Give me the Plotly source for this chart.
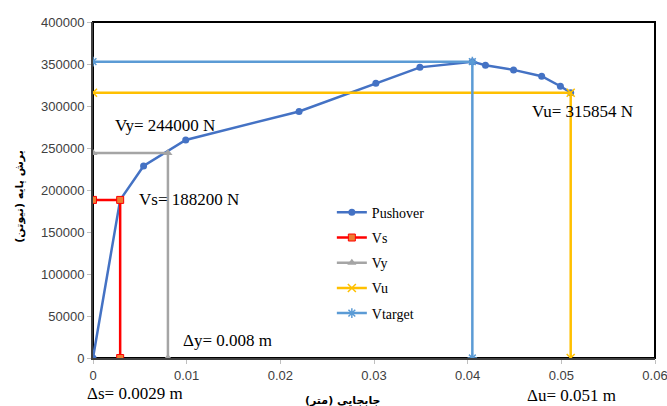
import plotly.graph_objects as go

# Pushover curve
push_x = [0, 0.0029, 0.0054, 0.0099, 0.0220, 0.0302, 0.0349, 0.0405, 0.0419, 0.0449, 0.0479, 0.0499, 0.051]
push_y = [0, 188200, 228600, 259500, 293500, 327000, 346000, 352800, 348500, 343000, 335500, 323500, 315854]

vs_x = [0, 0.0029, 0.0029]
vs_y = [188200, 188200, 0]
vy_x = [0, 0.008, 0.008]
vy_y = [244000, 244000, 0]
vu_x = [0, 0.051, 0.051]
vu_y = [315854, 315854, 0]
vt_x = [0, 0.0405, 0.0405]
vt_y = [352800, 352800, 0]

x_ticks = [0, 0.01, 0.02, 0.03, 0.04, 0.05, 0.06]
x_tick_labels = ["0", "0.01", "0.02", "0.03", "0.04", "0.05", "0.06"]
y_ticks = [0, 50000, 100000, 150000, 200000, 250000, 300000, 350000, 400000]
y_tick_labels = ["0", "50000", "100000", "150000", "200000", "250000", "300000", "350000", "400000"]

fig = go.Figure()
fig.add_trace(go.Scatter(x=push_x, y=push_y, name="Pushover", mode="lines+markers", legendgroup="a", legendrank=1,
                         line=dict(color="#4472C4", width=2.5),
                         marker=dict(symbol="circle", size=7, color="#4472C4")))
fig.add_trace(go.Scatter(x=vs_x, y=vs_y, name="Vs", mode="lines+markers", legendgroup="b", legendrank=2,
                         line=dict(color="#FF0000", width=2.5),
                         marker=dict(symbol="square", size=7, color="#ED7D31", line=dict(color="#FF0000", width=1))))
fig.add_trace(go.Scatter(x=vy_x, y=vy_y, name="Vy", mode="lines+markers", legendgroup="c", legendrank=3,
                         line=dict(color="#A5A5A5", width=2.5),
                         marker=dict(symbol="triangle-up", size=8, color="#A5A5A5")))
fig.add_trace(go.Scatter(x=vu_x, y=vu_y, name="Vu", mode="lines+markers", legendgroup="d", legendrank=4,
                         line=dict(color="#FFC000", width=2.5),
                         marker=dict(symbol="x-thin", size=8, color="#FFC000", line=dict(color="#FFC000", width=1.5))))
fig.add_trace(go.Scatter(x=vt_x, y=vt_y, name="Vtarget", mode="lines+markers", legendgroup="e", legendrank=5,
                         line=dict(color="#5B9BD5", width=2.5),
                         marker=dict(symbol="asterisk-open", size=8, color="#5B9BD5", line=dict(color="#5B9BD5", width=1.5))))

tick_font = dict(family="Liberation Sans, Arial", size=13, color="#404040")
fig.update_xaxes(range=[0, 0.06], tickvals=x_ticks, ticktext=x_tick_labels, showgrid=False, zeroline=False,
                 showline=True, linecolor="#404040", linewidth=2, mirror=False, ticklabeloverflow="allow",
                 ticks="outside", ticklen=4, tickcolor="#BFBFBF", tickfont=tick_font)
fig.update_yaxes(range=[0, 400000], tickvals=y_ticks, ticktext=y_tick_labels, showgrid=False, zeroline=False,
                 showline=True, linecolor="#404040", linewidth=2, mirror=False, ticklabeloverflow="allow",
                 ticks="outside", ticklen=4, tickcolor="#BFBFBF", tickfont=tick_font)

serif = dict(family="Liberation Serif, Times New Roman", size=17, color="#000000")
ann = [
    dict(x=0.0021, y=276500, text="Vy= 244000 N", xanchor="left", yanchor="middle"),
    dict(x=0.0047, y=188200, text="Vs= 188200 N", xanchor="left", yanchor="middle"),
    dict(x=0.0467, y=294000, text="Vu= 315854 N", xanchor="left", yanchor="middle"),
    dict(x=0.0094, y=21400, text="Δy= 0.008 m", xanchor="left", yanchor="middle"),
]
for a in ann:
    fig.add_annotation(xref="x", yref="y", showarrow=False, font=serif, **a)

fig.add_annotation(xref="paper", yref="paper", x=-0.0142, y=-0.107, text="Δs= 0.0029 m",
                   xanchor="left", yanchor="middle", showarrow=False, font=serif)
fig.add_annotation(xref="paper", yref="paper", x=0.769, y=-0.113, text="Δu= 0.051 m",
                   xanchor="left", yanchor="middle", showarrow=False, font=serif)

fig.add_annotation(xref="paper", yref="paper", x=-0.13, y=0.48, text="<b>برش پایه (نیوتن)</b>", textangle=-90,
                   xanchor="center", yanchor="middle",
                   showarrow=False, font=dict(family="DejaVu Sans", size=11, color="#000000"))
fig.add_annotation(xref="paper", yref="paper", x=0.445, y=-0.101, text="<b>جابجایی (متر)</b>", yanchor="top",
                   xanchor="center",
                   showarrow=False, font=dict(family="DejaVu Sans", size=11, color="#000000"))

# black frame around plot area
fig.add_shape(type="rect", xref="paper", yref="paper", x0=0, y0=0, x1=1, y1=1,
              line=dict(color="#000000", width=2), layer="below")

fig.update_layout(
    width=667, height=406,
    margin=dict(l=93, r=12, t=22, b=48, autoexpand=False),
    paper_bgcolor="white", plot_bgcolor="white",
    showlegend=True,
    legend=dict(x=0.425, y=0.48, xanchor="left", yanchor="top", bgcolor="rgba(0,0,0,0)",
                font=dict(family="Liberation Serif, Times New Roman", size=14, color="#000000"),
                tracegroupgap=4, itemwidth=30),
)

fig.write_html("out.html", config={"displayModeBar": False},
               post_script="document.body.style.margin='0';")
